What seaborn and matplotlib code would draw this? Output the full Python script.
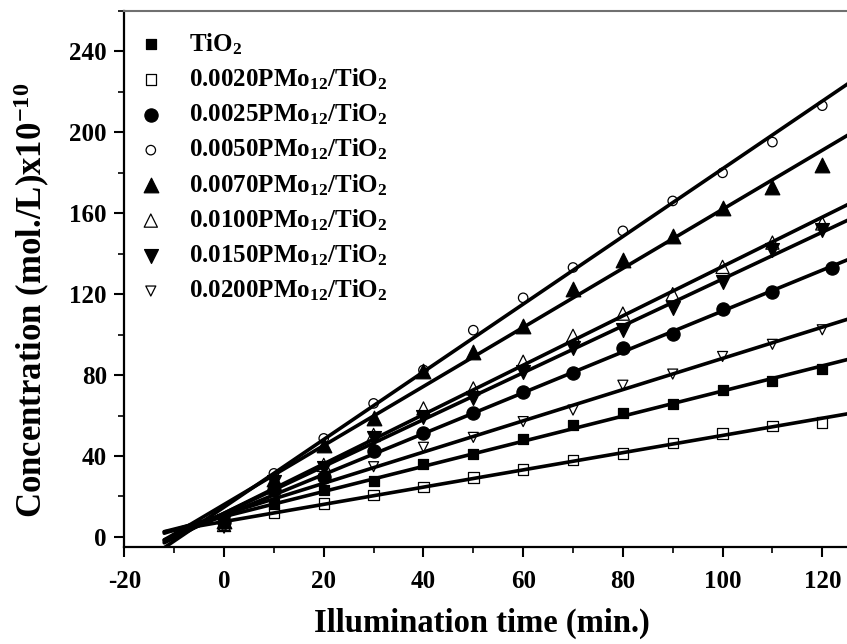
import numpy as np
import pandas as pd
import matplotlib
matplotlib.use("Agg")
import matplotlib.pyplot as plt
import seaborn as sns
from matplotlib.ticker import MultipleLocator

# Illumination time (min.) at which each sample was measured
time_min = [0, 10, 20, 30, 40, 50, 60, 70, 80, 90, 100, 110, 120]
time_0025 = [0, 10, 20, 30, 40, 50, 60, 70, 80, 90, 100, 110, 122]

# Concentration (mol./L) x 1e-10 for each catalyst
conc_tio2 = [7.5, 16.5, 23.2, 27.8, 36.0, 41.1, 48.3, 55.3, 61.1, 65.7, 72.6, 77.0, 82.8]
conc_0020 = [6.0, 11.7, 16.6, 20.8, 24.7, 29.4, 33.4, 38.0, 41.3, 46.3, 51.2, 54.8, 56.5]
conc_0025 = [7.5, 23.0, 29.8, 42.5, 51.5, 61.5, 71.8, 80.8, 93.2, 100.1, 112.9, 121.0, 133.0]
conc_0050 = [8.0, 31.4, 48.7, 66.0, 82.5, 102.2, 118.2, 133.2, 151.3, 166.1, 180.0, 195.2, 213.2]
conc_0070 = [8.0, 28.5, 45.4, 58.9, 82.0, 91.5, 104.5, 122.8, 136.8, 148.6, 162.8, 173.0, 183.7]
conc_0100 = [5.9, 24.5, 35.6, 50.4, 63.5, 73.4, 86.6, 99.4, 110.4, 120.0, 133.5, 145.5, 155.0]
conc_0150 = [8.0, 27.0, 33.9, 48.7, 59.4, 68.5, 81.6, 93.2, 102.2, 113.4, 125.8, 142.0, 151.5]
conc_0200 = [4.3, 23.0, 28.5, 34.7, 44.3, 49.2, 57.0, 62.7, 75.0, 80.5, 89.2, 95.2, 102.4]

labels = [
    "TiO$_2$",
    "0.0020PMo$_{12}$/TiO$_2$",
    "0.0025PMo$_{12}$/TiO$_2$",
    "0.0050PMo$_{12}$/TiO$_2$",
    "0.0070PMo$_{12}$/TiO$_2$",
    "0.0100PMo$_{12}$/TiO$_2$",
    "0.0150PMo$_{12}$/TiO$_2$",
    "0.0200PMo$_{12}$/TiO$_2$",
]
series_x = [time_min, time_min, time_0025, time_min, time_min, time_min, time_min, time_min]
series_y = [conc_tio2, conc_0020, conc_0025, conc_0050, conc_0070, conc_0100, conc_0150, conc_0200]

# symbol, marker size (pt), filled?
styles = [
    ("s", 6.5, True),
    ("s", 7.5, False),
    ("o", 9.5, True),
    ("o", 6.8, False),
    ("^", 10.5, True),
    ("^", 9.5, False),
    ("v", 10.0, True),
    ("v", 7.2, False),
]

sns.set_style("ticks")
plt.rcParams.update({
    "font.family": ["Liberation Serif", "DejaVu Serif"],
    "font.weight": "bold",
    "axes.labelweight": "bold",
    "axes.unicode_minus": False,
    "mathtext.fontset": "custom",
    "mathtext.rm": "Liberation Serif:bold",
    "mathtext.bf": "Liberation Serif:bold",
    "mathtext.it": "Liberation Serif:bold",
    "mathtext.default": "rm",
    "text.color": "black",
    "axes.labelcolor": "black",
    "xtick.color": "black",
    "ytick.color": "black",
})

fig = plt.figure(figsize=(8.47, 6.44), dpi=100)
ax = fig.add_axes([0.1468, 0.1506, 0.8652, 0.8323])

fit_x = np.array([-12.0, 130.0])
for x, y, lab, (mk, ms, filled) in zip(series_x, series_y, labels, styles):
    df = pd.DataFrame({"time": x, "conc": y})
    sns.scatterplot(
        data=df, x="time", y="conc", ax=ax, marker=mk, s=ms ** 2,
        facecolor="black" if filled else "none", edgecolor="black",
        linewidth=0.9, label=lab, zorder=3,
    )
    slope, icpt = np.polyfit(x, y, 1)
    sns.lineplot(x=fit_x, y=slope * fit_x + icpt, ax=ax, color="black",
                 linewidth=2.6, zorder=2, legend=False)

ax.set_xlim(-20, 127)
ax.set_ylim(-5, 260)
ax.xaxis.set_major_locator(MultipleLocator(20))
ax.xaxis.set_minor_locator(MultipleLocator(10))
ax.yaxis.set_major_locator(MultipleLocator(40))
ax.yaxis.set_minor_locator(MultipleLocator(20))
ax.tick_params(which="major", direction="out", length=7.5, width=1.5, labelsize=18)
ax.tick_params(which="minor", direction="out", length=4, width=1.2)
ax.tick_params(axis="x", which="major", pad=9)
ax.tick_params(axis="y", which="major", pad=5)
for lbl in ax.get_xticklabels() + ax.get_yticklabels():
    lbl.set_fontweight("bold")

for side in ["left", "bottom", "right"]:
    ax.spines[side].set_linewidth(1.6)
    ax.spines[side].set_color("black")
ax.spines["top"].set_linewidth(1.5)
ax.spines["top"].set_color("#707070")

ax.set_xlabel("Illumination time (min.)", fontsize=23.5, fontweight="bold")
ax.xaxis.set_label_coords(0.488, -0.114)
ax.set_ylabel("Concentration (mol./L)x10$^{-10}$", fontsize=25, fontweight="bold")
ax.yaxis.set_label_coords(-0.099, 0.46)

ax.legend(loc="upper left", bbox_to_anchor=(0.002, 0.972), frameon=False,
          borderaxespad=0.0, borderpad=0.2, handlelength=1.6, handletextpad=0.72,
          labelspacing=0.385,
          prop={"family": "Liberation Serif", "weight": "bold", "size": 18})

fig.savefig("out.png", dpi=100)
